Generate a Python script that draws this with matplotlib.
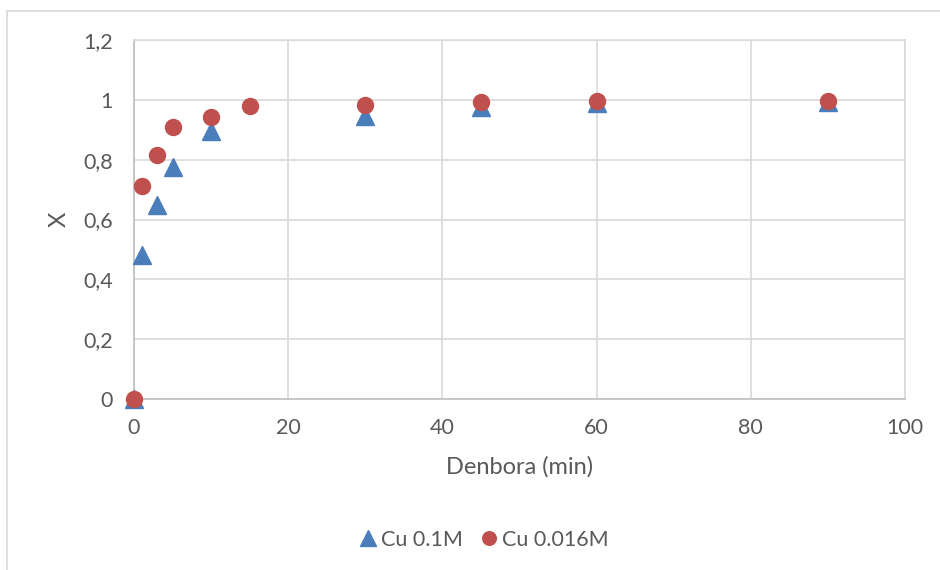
import matplotlib
matplotlib.use("Agg")
import matplotlib.pyplot as plt
from matplotlib.patches import Rectangle
from matplotlib.ticker import FuncFormatter

plt.rcParams['font.family'] = ['Lato', 'DejaVu Sans']

# Reaction time (min) and conversion X for two copper concentrations
time_a = [0, 1, 3, 5, 10, 30, 45, 60, 90]
conv_a = [0.0, 0.48, 0.65, 0.776, 0.896, 0.946, 0.977, 0.988, 0.993]
time_b = [0, 1, 3, 5, 10, 15, 30, 45, 60, 90]
conv_b = [0.0, 0.712, 0.816, 0.91, 0.943, 0.98, 0.984, 0.992, 0.997, 0.997]

label_a = "Cu 0.1M"
label_b = "Cu 0.016M"
x_ticks = [0, 20, 40, 60, 80, 100]
y_ticks = [0, 0.2, 0.4, 0.6, 0.8, 1.0, 1.2]

W, H = 940, 570
fig = plt.figure(figsize=(W / 100, H / 100), dpi=100)

# outer chart frame (extends past the right and bottom edges)
fig.patches.append(Rectangle((7.5 / W, -0.1), 1.2, 1.1 - 11.5 / H,
                             transform=fig.transFigure, fill=False,
                             edgecolor='#d9d9d9', linewidth=1.2))

ax = fig.add_axes([134 / W, 1 - 399 / H, (905 - 134) / W, (399 - 40) / H])

grid_c = '#d9d9d9'
text_c = '#595959'
blue = '#4a7ebb'
red = '#c0504d'

ax.set_xlim(0, 100)
ax.set_ylim(0, 1.2)
ax.set_xticks(x_ticks)
ax.set_yticks(y_ticks)
ax.yaxis.set_major_formatter(FuncFormatter(lambda v, p: f"{v:g}".replace('.', ',')))
ax.grid(True, color=grid_c, linewidth=1.2)
ax.set_axisbelow(True)
for side in ['top', 'right']:
    ax.spines[side].set_color(grid_c)
    ax.spines[side].set_linewidth(1.2)
for side in ['left', 'bottom']:
    ax.spines[side].set_color('#bfbfbf')
    ax.spines[side].set_linewidth(1.2)
ax.tick_params(length=0, labelsize=15.5, colors=text_c)
ax.tick_params(axis='y', pad=15)
ax.tick_params(axis='x', pad=14)

ax.plot(time_a, conv_a, linestyle='none', marker='^', markersize=13,
        color=blue, clip_on=False, zorder=3, label=label_a)
ax.plot(time_b, conv_b, linestyle='none', marker='o', markersize=11.5,
        color=red, clip_on=False, zorder=4, label=label_b)

ax.set_xlabel("Denbora (min)", fontsize=17, color=text_c, labelpad=13)
ax.set_ylabel("X", fontsize=17, color=text_c, labelpad=10)

fig.legend(loc='center', bbox_to_anchor=(483 / W, 1 - 540 / H), ncol=2,
           frameon=False, fontsize=15.5, labelcolor=text_c,
           handletextpad=0.1, columnspacing=0.75, handlelength=1.0,
           markerscale=0.85)

fig.savefig("out.png", dpi=100, facecolor='white')
